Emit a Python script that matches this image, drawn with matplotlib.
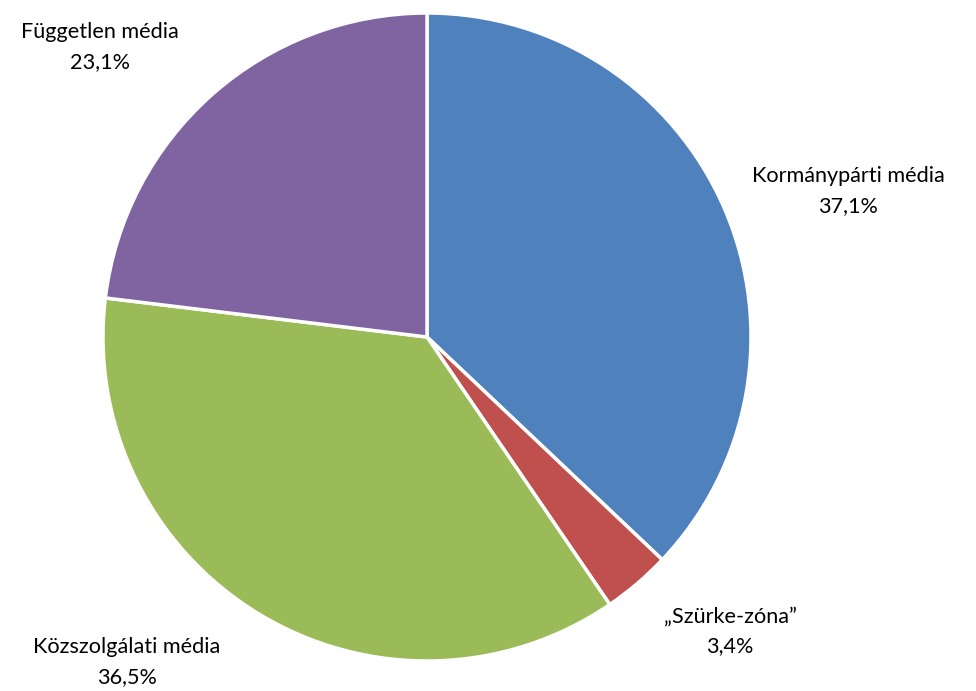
import matplotlib.pyplot as plt

categories = ['Kormánypárti média', '„Szürke-zóna”', 'Közszolgálati média', 'Független média']
shares = [37.1, 3.4, 36.5, 23.1]
share_labels = ['37,1%', '3,4%', '36,5%', '23,1%']
colors = ['#4F81BD', '#C0504D', '#9BBB59', '#8064A2']

# label centres in figure pixels (from top-left)
label_pos = [(848, 191), (730, 631), (127, 662), (100, 47)]

W, H = 976, 691
fig = plt.figure(figsize=(W / 100, H / 100), dpi=100)
ax = fig.add_axes([103 / W, 30 / H, 648 / W, 648 / H])

ax.pie(shares, colors=colors, startangle=90, counterclock=False, radius=1,
       wedgeprops=dict(edgecolor='white', linewidth=2.5))
ax.set_xlim(-1.0, 1.0)
ax.set_ylim(-1.0, 1.0)
ax.set_aspect('equal')
ax.axis('off')

for name, pct, (px, py) in zip(categories, share_labels, label_pos):
    fig.text(px / W, 1 - py / H, name + '\n' + pct, ha='center', va='center',
             fontsize=15.6, family=['Lato', 'DejaVu Sans'], linespacing=1.6,
             color='black')

fig.savefig('out.png', dpi=100)
